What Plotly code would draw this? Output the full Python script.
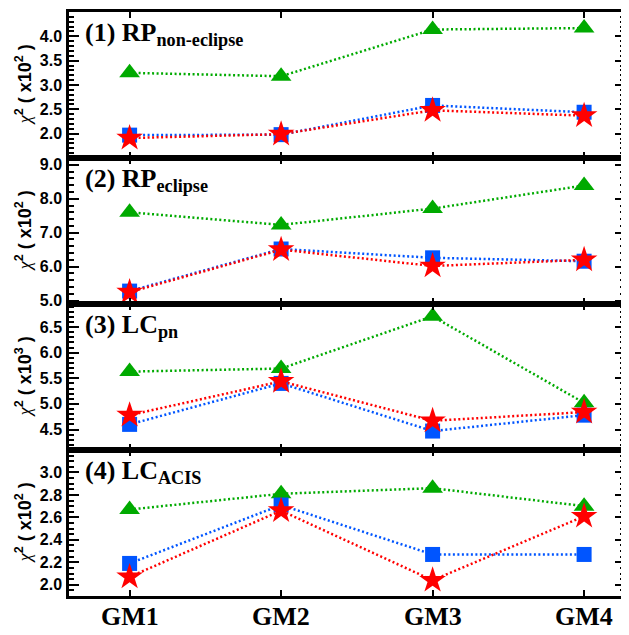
import plotly.graph_objects as go
from plotly.subplots import make_subplots

models = ["GM1", "GM2", "GM3", "GM4"]
xpos = [1, 2, 3, 4]

# Panel 1: RP non-eclipse (x10^2)
p1_green = [3.25, 3.18, 4.14, 4.17]
p1_blue = [1.97, 1.98, 2.58, 2.44]
p1_red = [1.91, 1.99, 2.48, 2.37]
# Panel 2: RP eclipse (x10^2)
p2_green = [7.60, 7.23, 7.71, 8.39]
p2_blue = [5.28, 6.52, 6.26, 6.16]
p2_red = [5.25, 6.50, 6.02, 6.20]
# Panel 3: LC pn (x10^3)
p3_green = [5.63, 5.69, 6.71, 5.02]
p3_blue = [4.60, 5.40, 4.47, 4.78]
p3_red = [4.78, 5.44, 4.67, 4.84]
# Panel 4: LC ACIS (x10^2)
p4_green = [2.67, 2.81, 2.86, 2.70]
p4_blue = [2.19, 2.71, 2.27, 2.27]
p4_red = [2.07, 2.66, 2.04, 2.61]

# y tick labels per panel
p1_ticks = [2.0, 2.5, 3.0, 3.5, 4.0]
p2_ticks = [5.0, 6.0, 7.0, 8.0, 9.0]
p3_ticks = [4.5, 5.0, 5.5, 6.0, 6.5]
p4_ticks = [2.0, 2.2, 2.4, 2.6, 2.8, 3.0]

panels = [
    (p1_green, p1_blue, p1_red),
    (p2_green, p2_blue, p2_red),
    (p3_green, p3_blue, p3_red),
    (p4_green, p4_blue, p4_red),
]
titles = [
    "(1) RP<sub>non-eclipse</sub>",
    "(2) RP<sub>eclipse</sub>",
    "(3) LC<sub>pn</sub>",
    "(4) LC<sub>ACIS</sub>",
]
exps = ["2", "2", "3", "2"]
yticks = [p1_ticks, p2_ticks, p3_ticks, p4_ticks]
yranges = [[1.5, 4.5], [4.9, 9.2], [4.1, 6.95], [1.9, 3.2]]
yminor = [0.1, 0.2, 0.1, 0.05]

GREEN = "#00AA00"
BLUE = "#0055FF"
RED = "#FF0000"

fig = make_subplots(rows=4, cols=1, shared_xaxes=True, vertical_spacing=0)

for i, (g, b, r) in enumerate(panels):
    row = i + 1
    fig.add_trace(go.Scatter(x=xpos, y=g, mode="lines+markers",
                             line=dict(color=GREEN, width=2.5, dash="2px,2.5px"),
                             marker=dict(symbol="triangle-up", size=18, color=GREEN),
                             showlegend=False), row=row, col=1)
    fig.add_trace(go.Scatter(x=xpos, y=b, mode="lines+markers",
                             line=dict(color=BLUE, width=2.5, dash="2px,2.5px"),
                             marker=dict(symbol="square", size=15, color=BLUE),
                             showlegend=False), row=row, col=1)
    fig.add_trace(go.Scatter(x=xpos, y=r, mode="lines+markers",
                             line=dict(color=RED, width=2.5, dash="2px,2.5px"),
                             marker=dict(symbol="star", size=20, color=RED),
                             showlegend=False), row=row, col=1)

    fig.update_yaxes(range=yranges[i], tickmode="array", tickvals=yticks[i],
                     ticktext=[f"{v:.1f}" for v in yticks[i]],
                     showline=True, linewidth=2.5, linecolor="black", mirror="allticks",
                     ticks="inside", ticklen=10, tickwidth=2, tickcolor="black",
                     ticklabelstandoff=1,
                     minor=dict(ticks="inside", ticklen=5, tickmode="linear", tick0=0,
                                dtick=yminor[i], tickwidth=1.5,
                                tickcolor="black", showgrid=False),
                     showgrid=False, zeroline=False,
                     tickfont=dict(family="Liberation Sans", size=16, color="black", weight="bold"),
                     row=row, col=1)
    fig.update_xaxes(range=[0.6, 4.27], tickvals=xpos,
                     showline=True, linewidth=2.5, linecolor="black", mirror="allticks",
                     ticks="inside", ticklen=6, tickwidth=2, tickcolor="black",
                     showgrid=False, zeroline=False, showticklabels=False,
                     row=row, col=1)

    yref = "y" if row == 1 else f"y{row}"
    xref = "x" if row == 1 else f"x{row}"
    fig.add_annotation(text=titles[i], xref=f"{xref} domain", yref=f"{yref} domain",
                       x=0.025, y=0.975, xanchor="left", yanchor="top", showarrow=False,
                       font=dict(family="Liberation Serif", size=26, color="black", weight="bold"))
    dom = fig.layout[("yaxis" if row == 1 else f"yaxis{row}")].domain
    ymid = (dom[0] + dom[1]) / 2
    fig.add_annotation(
        text=f"<span style='font-family:Liberation Serif;font-style:italic;font-weight:normal'>χ</span><sup>2</sup> ( x10<sup>{exps[i]}</sup> )",
        xref="paper", yref="paper", x=-0.0824, y=ymid, xanchor="center", yanchor="middle",
        textangle=-90, showarrow=False,
        font=dict(family="Liberation Sans", size=18, color="black", weight="bold"))

# x category labels under the bottom panel
for xv, name in zip(xpos, models):
    fig.add_annotation(text=name, x=xv, xref="x4", y=-0.0358, yref="paper",
                       xanchor="center", yanchor="middle", showarrow=False,
                       font=dict(family="Liberation Serif", size=26, color="black", weight="bold"))

# page body has an 8px margin, so the figure is sized/offset to land on the reference pixels
fig.update_layout(width=621, height=627, margin=dict(l=61, r=2, t=1, b=39),
                  plot_bgcolor="white", paper_bgcolor="white")

fig.write_html("out.html")
